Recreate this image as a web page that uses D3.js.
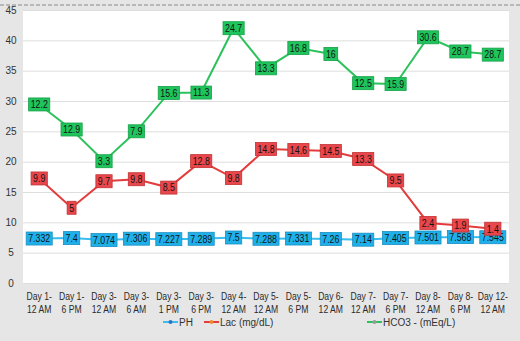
<!DOCTYPE html>
<html>
<head>
<meta charset="utf-8">
<script src="https://cdn.jsdelivr.net/npm/d3@7"></script>
<style>
  html, body { margin: 0; padding: 0; background: #e6e6e6; }
  svg { display: block; font-family: "Liberation Sans", Arial, sans-serif; }
</style>
</head>
<body>
<svg id="chart" width="520" height="341"></svg>
<script>
// Time points (two-line labels, split on "|")
const categories = [
  "Day 1-|12 AM", "Day 1-|6 PM", "Day 3-|12 AM", "Day 3-|6 AM", "Day 3-|1 PM",
  "Day 3-|6 PM", "Day 4-|12 AM", "Day 5-|12 AM", "Day 5-|6 PM", "Day 6-|12 AM",
  "Day 7-|12 AM", "Day 7-|6 PM", "Day 8-|12 AM", "Day 8-|6 PM", "Day 12-|12 AM"
];
const ph   = [7.332, 7.4, 7.074, 7.306, 7.227, 7.289, 7.5, 7.288, 7.331, 7.26, 7.14, 7.405, 7.501, 7.568, 7.545];
const lac  = [9.9, 5, 9.7, 9.8, 8.5, 12.8, 9.8, 14.8, 14.6, 14.5, 13.3, 9.5, 2.4, 1.9, 1.4];
const hco3 = [12.2, 12.9, 3.3, 7.9, 15.6, 11.3, 24.7, 13.3, 16.8, 16, 12.5, 15.9, 30.6, 28.7, 28.7];
const yTicks = [0, 5, 10, 15, 20, 25, 30, 35, 40, 45];

const seriesInfo = [
  { key: "ph",   name: "PH",             values: ph,   line: "#3bbdee", fill: "#1fb0ea", stroke: "#1b8fc2", dot: "#2f6fc4" },
  { key: "lac",  name: "Lac (mg/dL)",    values: lac,  line: "#e23c3c", fill: "#e9474b", stroke: "#c23234", dot: "#f08a2c" },
  { key: "hco3", name: "HCO3 - (mEq/L)", values: hco3, line: "#2ec25c", fill: "#1fc45c", stroke: "#15a048", dot: "#9a9a9a" }
];

// Table built from the arrays for d3.stack
const table = categories.map((c, i) => ({ cat: c, ph: ph[i], lac: lac[i], hco3: hco3[i] }));
const stacked = d3.stack().keys(seriesInfo.map(s => s.key))(table);

const svg = d3.select("#chart");
const W = 520, H = 341;
const plot = { left: 23, right: 509, top: 10, bottom: 283 };
const NARROW = 0.84;   // horizontal squeeze for compact labels

svg.append("rect").attr("width", W).attr("height", H).attr("fill", "#e6e6e6");

// dashed rule along the top
svg.append("line")
  .attr("x1", 0).attr("x2", W).attr("y1", 5).attr("y2", 5)
  .attr("stroke", "#8a8a8a").attr("stroke-width", 1).attr("stroke-dasharray", "4,2");

svg.append("rect")
  .attr("x", plot.left).attr("y", plot.top)
  .attr("width", plot.right - plot.left).attr("height", plot.bottom - plot.top)
  .attr("fill", "#ffffff");

const x = d3.scaleBand().domain(categories).range([plot.left, plot.right]);
const y = d3.scaleLinear().domain([0, 45]).range([plot.bottom, plot.top]);
const cx = c => x(c) + x.bandwidth() / 2;

// gridlines
svg.append("g").selectAll("line").data(yTicks).join("line")
  .attr("x1", plot.left).attr("x2", plot.right)
  .attr("y1", d => y(d) + 0.5).attr("y2", d => y(d) + 0.5)
  .attr("stroke", "#dedede").attr("stroke-width", 1);

// y axis labels
const yAxis = svg.append("g").attr("transform", `translate(${plot.left},0)`)
  .call(d3.axisLeft(y).tickValues(yTicks).tickSize(0).tickPadding(6));
yAxis.select(".domain").remove();
yAxis.selectAll("text").attr("fill", "#333").style("font-size", "10px")
  .attr("text-anchor", "middle").attr("x", -12);

// x axis labels (two lines)
const xAxis = svg.append("g").attr("transform", `translate(0,${plot.bottom})`)
  .call(d3.axisBottom(x).tickSize(0).tickFormat(""));
xAxis.select(".domain").remove();
xAxis.selectAll(".tick").each(function(d) {
  const parts = d.split("|");
  const t = d3.select(this).append("text")
    .attr("transform", `scale(0.82,1)`)
    .attr("fill", "#2a2a2a").style("font-size", "10.5px").attr("text-anchor", "middle");
  t.append("tspan").attr("x", 0).attr("y", 17).text(parts[0]);
  t.append("tspan").attr("x", 0).attr("y", 30).text(parts[1]);
});

// stacked lines
const lineGen = d3.line().x(d => cx(d.data.cat)).y(d => y(d[1]));
seriesInfo.forEach((s, k) => {
  svg.append("path").datum(stacked[k])
    .attr("fill", "none").attr("stroke", s.line).attr("stroke-width", 2)
    .attr("d", lineGen);
});

// value labels at each point
seriesInfo.forEach((s, k) => {
  const g = svg.append("g");
  stacked[k].forEach((d, i) => {
    const lg = g.append("g").attr("transform", `translate(${cx(d.data.cat)},${y(d[1])})`);
    const rect = lg.append("rect");
    const txt = lg.append("text").text(s.values[i])
      .attr("transform", `scale(${NARROW},1)`)
      .attr("text-anchor", "middle").attr("dy", "0.36em")
      .attr("fill", "#141414").style("font-size", "10.5px");
    const w = txt.node().getComputedTextLength() * NARROW + 4;
    rect.attr("x", -w / 2).attr("y", -6.5).attr("width", w).attr("height", 13)
      .attr("fill", s.fill).attr("stroke", s.stroke).attr("stroke-width", 0.8);
  });
});

// legend
const legendItems = [
  { s: seriesInfo[0], x: 163 },
  { s: seriesInfo[1], x: 204 },
  { s: seriesInfo[2], x: 367 }
];
const lg = svg.append("g");
legendItems.forEach(it => {
  const yy = 322;
  lg.append("line").attr("x1", it.x).attr("x2", it.x + 15).attr("y1", yy).attr("y2", yy)
    .attr("stroke", it.s.line).attr("stroke-width", 2);
  lg.append("circle").attr("cx", it.x + 7.5).attr("cy", yy).attr("r", 2)
    .attr("fill", it.s.dot);
  lg.append("text").attr("x", it.x + 16).attr("y", yy).attr("dy", "0.35em")
    .attr("fill", "#333").style("font-size", "10px").text(it.s.name);
});
</script>
</body>
</html>
